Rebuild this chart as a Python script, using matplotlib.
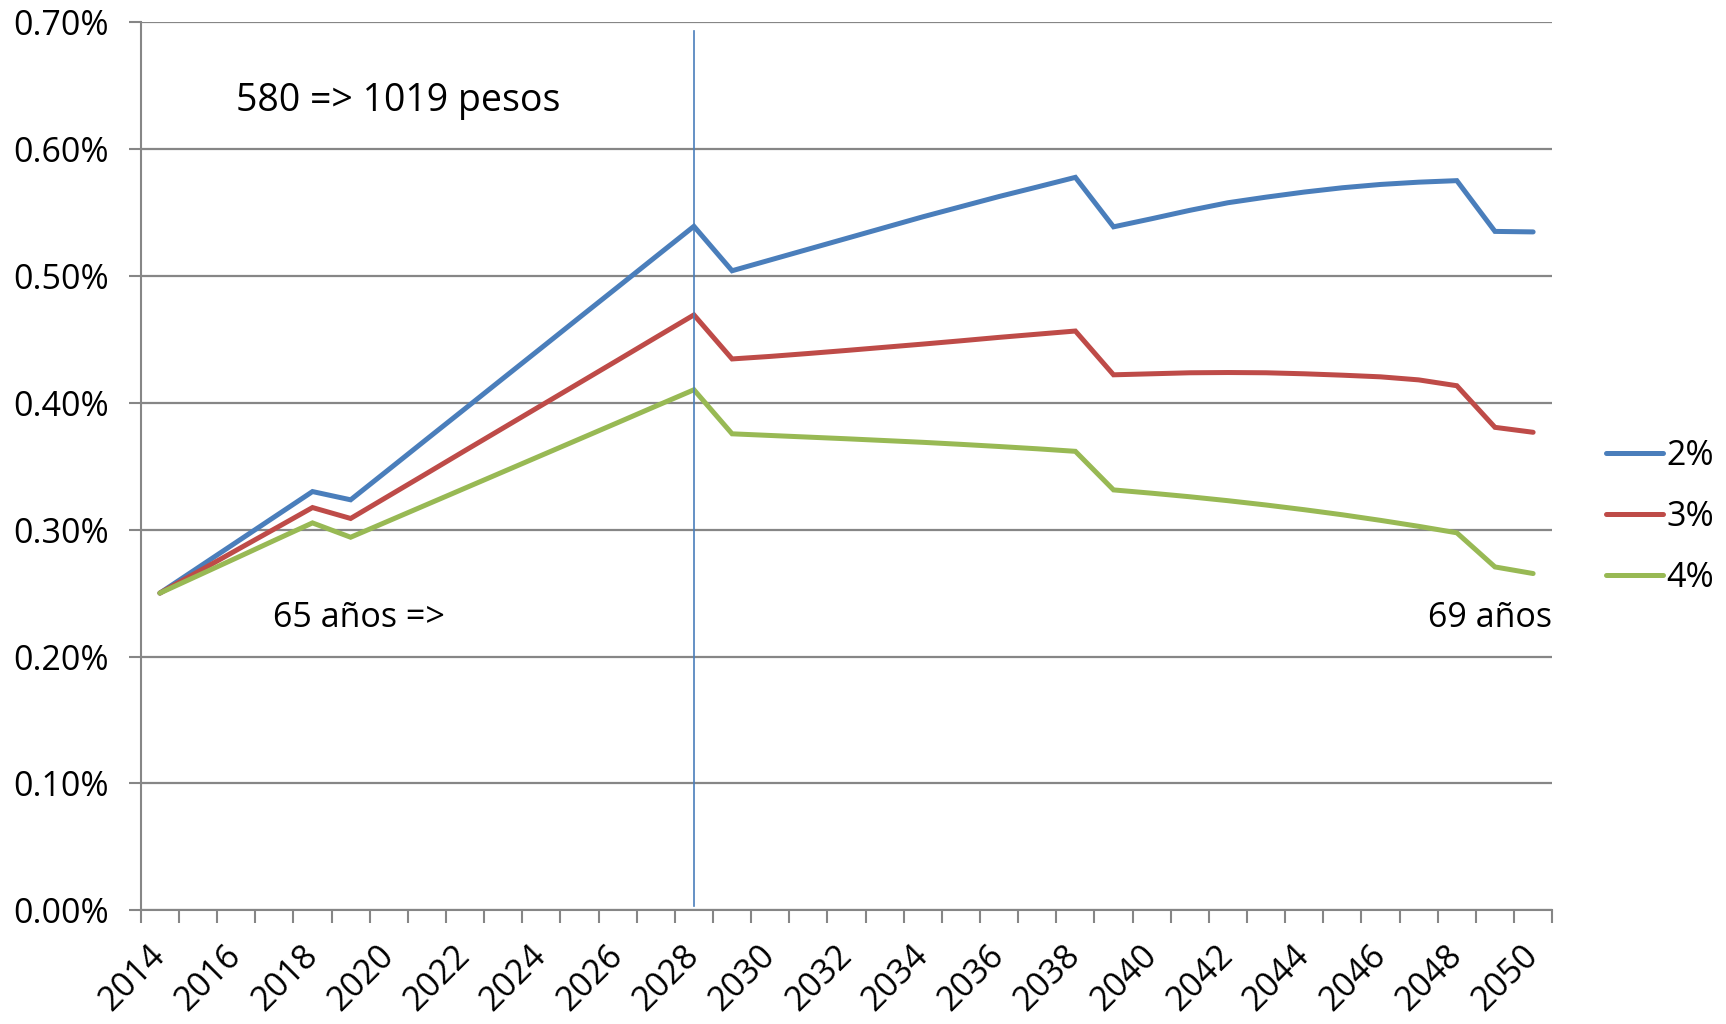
import matplotlib
matplotlib.use("Agg")
import matplotlib.pyplot as plt
from matplotlib.lines import Line2D
from matplotlib.ticker import FixedLocator, NullFormatter, FuncFormatter

plt.rcParams['font.family'] = ['Open Sans', 'DejaVu Sans']

years = list(range(2014, 2051))

# values in percent
rate_2 = [0.250, 0.270, 0.290, 0.310, 0.330, 0.3235, 0.3474, 0.3714, 0.3953, 0.4193,
          0.4432, 0.4672, 0.4911, 0.5151, 0.539, 0.504, 0.5125, 0.521, 0.5295, 0.538,
          0.5465, 0.5545, 0.5625, 0.570, 0.5776, 0.5386, 0.545, 0.5516, 0.5576, 0.562,
          0.566, 0.5694, 0.572, 0.5738, 0.575, 0.535, 0.5346]
rate_3 = [0.250, 0.2668, 0.2837, 0.3005, 0.3174, 0.3088, 0.3266, 0.3444, 0.3623, 0.3801,
          0.3979, 0.4157, 0.4335, 0.4514, 0.4692, 0.4345, 0.4365, 0.4388, 0.4412, 0.4437,
          0.4462, 0.4488, 0.4515, 0.4540, 0.4565, 0.422, 0.4228, 0.4236, 0.4238, 0.4236,
          0.4228, 0.4217, 0.4204, 0.418, 0.4134, 0.3806, 0.3767]
rate_4 = [0.250, 0.2638, 0.2776, 0.2915, 0.3053, 0.294, 0.3069, 0.3198, 0.3327, 0.3456,
          0.3585, 0.3714, 0.3843, 0.3973, 0.4102, 0.3755, 0.3742, 0.3729, 0.3716, 0.3702,
          0.3688, 0.3672, 0.3655, 0.3637, 0.3617, 0.3313, 0.3287, 0.3259, 0.3228, 0.3194,
          0.3157, 0.3117, 0.3073, 0.3026, 0.2975, 0.2706, 0.2654]
series_labels = ['2%', '3%', '4%']
colors = ['#4A7EBB', '#BE4B48', '#98B954']

fig = plt.figure(figsize=(17.26, 10.24), dpi=100)
ax = fig.add_axes([0.0816, 0.111, 0.8177, 0.8675])

x = list(range(len(years)))
for vals, lab, c in zip([rate_2, rate_3, rate_4], series_labels, colors):
    ax.plot(x, vals, color=c, lw=3.6, label=lab, solid_capstyle='round', solid_joinstyle='miter')

ax.axvline(years.index(2028), ymin=0.005, ymax=0.99, color='#4A7EBB', lw=1.2)

ax.set_xlim(-0.5, len(years) - 0.5)
ax.set_ylim(0, 0.70)
ax.set_yticks([i / 10 for i in range(8)])
ax.yaxis.set_major_formatter(FuncFormatter(lambda v, p: '%.2f%%' % v))
ax.grid(axis='y', color='#868686', lw=1.6)
ax.set_axisbelow(True)

# ticks at category boundaries, labels every other year
ax.xaxis.set_major_locator(FixedLocator([i - 0.5 for i in range(len(years) + 1)]))
ax.xaxis.set_major_formatter(NullFormatter())
ax.xaxis.set_minor_locator(FixedLocator(x[::2]))
ax.set_xticklabels([str(y) for y in years[::2]], minor=True)
ax.tick_params(axis='x', which='major', length=9, width=1.5, color='#868686')
ax.tick_params(axis='x', which='minor', length=0, pad=29, labelsize=24.5)
for t in ax.get_xticklabels(minor=True):
    t.set_rotation(45)
    t.set_ha('right')
    t.set_va('center')
    t.set_rotation_mode('anchor')
ax.tick_params(axis='y', length=9, width=1.5, color='#868686', labelsize=24.5, pad=14)

for s in ['top', 'right']:
    ax.spines[s].set_visible(False)
for s in ['left', 'bottom']:
    ax.spines[s].set_color('#868686')
    ax.spines[s].set_linewidth(1.5)

ax.text(2.0, 0.638, '580 => 1019 pesos', fontsize=27, va='center', ha='left')
ax.text(2.96, 0.230, '65 años =>', fontsize=24.5, va='center', ha='left')
ax.text(36.5, 0.230, '69 años', fontsize=24.5, va='center', ha='right')

handles = [Line2D([], [], color=c, lw=3.6, solid_capstyle='round') for c in colors]
fig.legend(handles, series_labels, loc='center left', bbox_to_anchor=(0.913, 0.495),
           frameon=False, fontsize=24.5, handlelength=1.65, handletextpad=0.1,
           labelspacing=0.8)

fig.savefig('out.png', dpi=100)
